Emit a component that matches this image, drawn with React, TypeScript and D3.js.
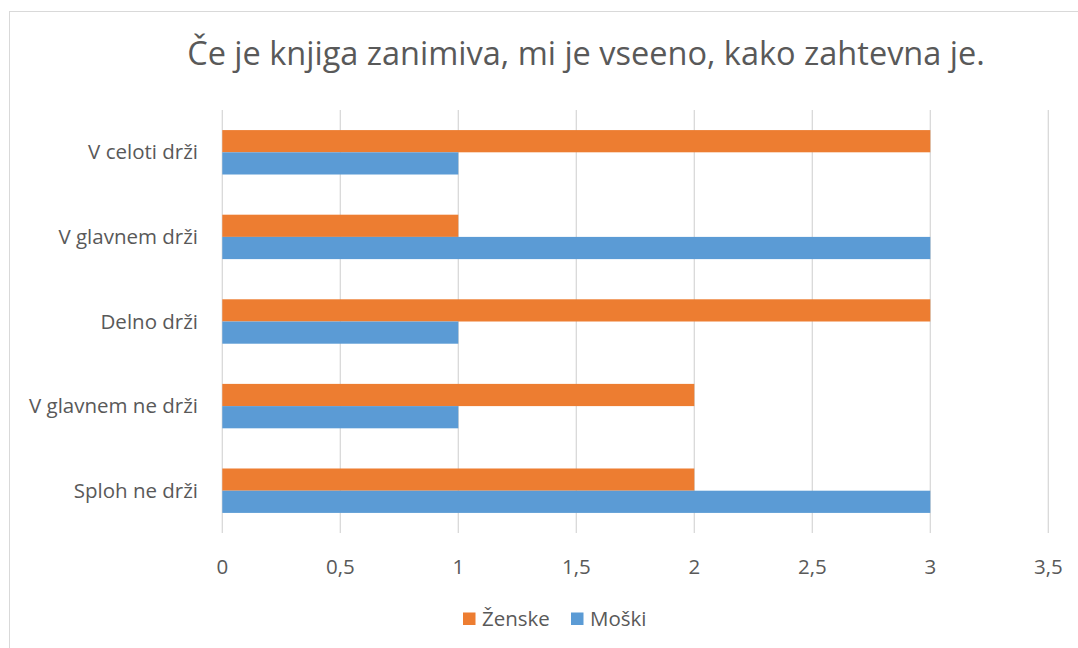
import React, { useEffect, useRef } from "react";
import * as d3 from "d3";

// chart data
const categories = ["V celoti drži", "V glavnem drži", "Delno drži", "V glavnem ne drži", "Sploh ne drži"];
const seriesNames = ["Ženske", "Moški"];
const zenske = [3, 1, 3, 2, 2];
const moski = [1, 3, 1, 1, 3];
const ticks = [0, 0.5, 1, 1.5, 2, 2.5, 3, 3.5];
const colors = ["#ED7D31", "#5B9BD5"];

const title = "Če je knjiga zanimiva, mi je vseeno, kako zahtevna je.";

function App() {
  const svgRef = useRef<SVGSVGElement>(null);
  const W = 1078;
  const H = 648;

  useEffect(() => {
    const svg = d3.select(svgRef.current);
    svg.selectAll("*").remove();
    const font = "'Open Sans', sans-serif";
    const textColor = "#595959";

    // outer chart border
    svg.append("rect")
      .attr("x", 9.5).attr("y", 11.5)
      .attr("width", W + 20).attr("height", H + 20)
      .attr("fill", "#fff").attr("stroke", "#D9D9D9");

    const x = d3.scaleLinear().domain([0, 3.5]).range([222.3, 1048.3]);
    const y = d3.scaleBand().domain(categories).range([110, 533]).paddingInner(0.475).paddingOuter(0.2375);
    const ySub = d3.scaleBand().domain(seriesNames).range([0, y.bandwidth()]);

    // gridlines
    svg.append("g").selectAll("line").data(ticks).enter().append("line")
      .attr("x1", (d) => x(d)).attr("x2", (d) => x(d))
      .attr("y1", 110).attr("y2", 533)
      .attr("stroke", "#D9D9D9").attr("stroke-width", 1.3);

    const rows = categories.map((c, i) => ({ cat: c, values: [zenske[i], moski[i]] }));
    const g = svg.append("g").selectAll("g").data(rows).enter().append("g")
      .attr("transform", (d) => `translate(0,${y(d.cat)})`);
    g.selectAll("rect").data((d) => d.values.map((v, j) => ({ v, s: seriesNames[j], j })))
      .enter().append("rect")
      .attr("x", x(0))
      .attr("y", (d) => ySub(d.s)!)
      .attr("width", (d) => x(d.v) - x(0))
      .attr("height", ySub.bandwidth())
      .attr("fill", (d) => colors[d.j]);

    // category labels
    svg.append("g").selectAll("text").data(categories).enter().append("text")
      .attr("x", 198).attr("y", (d) => y(d)! + y.bandwidth() / 2)
      .attr("dy", "0.35em").attr("text-anchor", "end")
      .attr("font-family", font).attr("font-size", 20.5).attr("fill", textColor)
      .text((d) => d);

    // x tick labels
    svg.append("g").selectAll("text").data(ticks).enter().append("text")
      .attr("x", (d) => x(d)).attr("y", 567)
      .attr("dy", "0.35em").attr("text-anchor", "middle")
      .attr("font-family", font).attr("font-size", 20.5).attr("fill", textColor)
      .text((d) => String(d).replace(".", ","));

    // title
    svg.append("text")
      .attr("x", 586).attr("y", 65).attr("text-anchor", "middle")
      .attr("font-family", font).attr("font-size", 32.5).attr("fill", textColor)
      .text(title);

    // legend
    const legendX = [463, 571];
    const lg = svg.append("g").selectAll("g").data(seriesNames).enter().append("g")
      .attr("transform", (d, i) => `translate(${legendX[i]},612.5)`);
    lg.append("rect").attr("width", 12.5).attr("height", 12.5).attr("fill", (d, i) => colors[i]);
    lg.append("text").attr("x", 19).attr("y", 6.5).attr("dy", "0.35em")
      .attr("font-family", font).attr("font-size", 20.5).attr("fill", textColor)
      .text((d) => d);
  }, []);

  return (
    <svg ref={svgRef} width={W} height={H} style={{ position: "absolute", left: 0, top: 0 }} />
  );
}

export default App;
